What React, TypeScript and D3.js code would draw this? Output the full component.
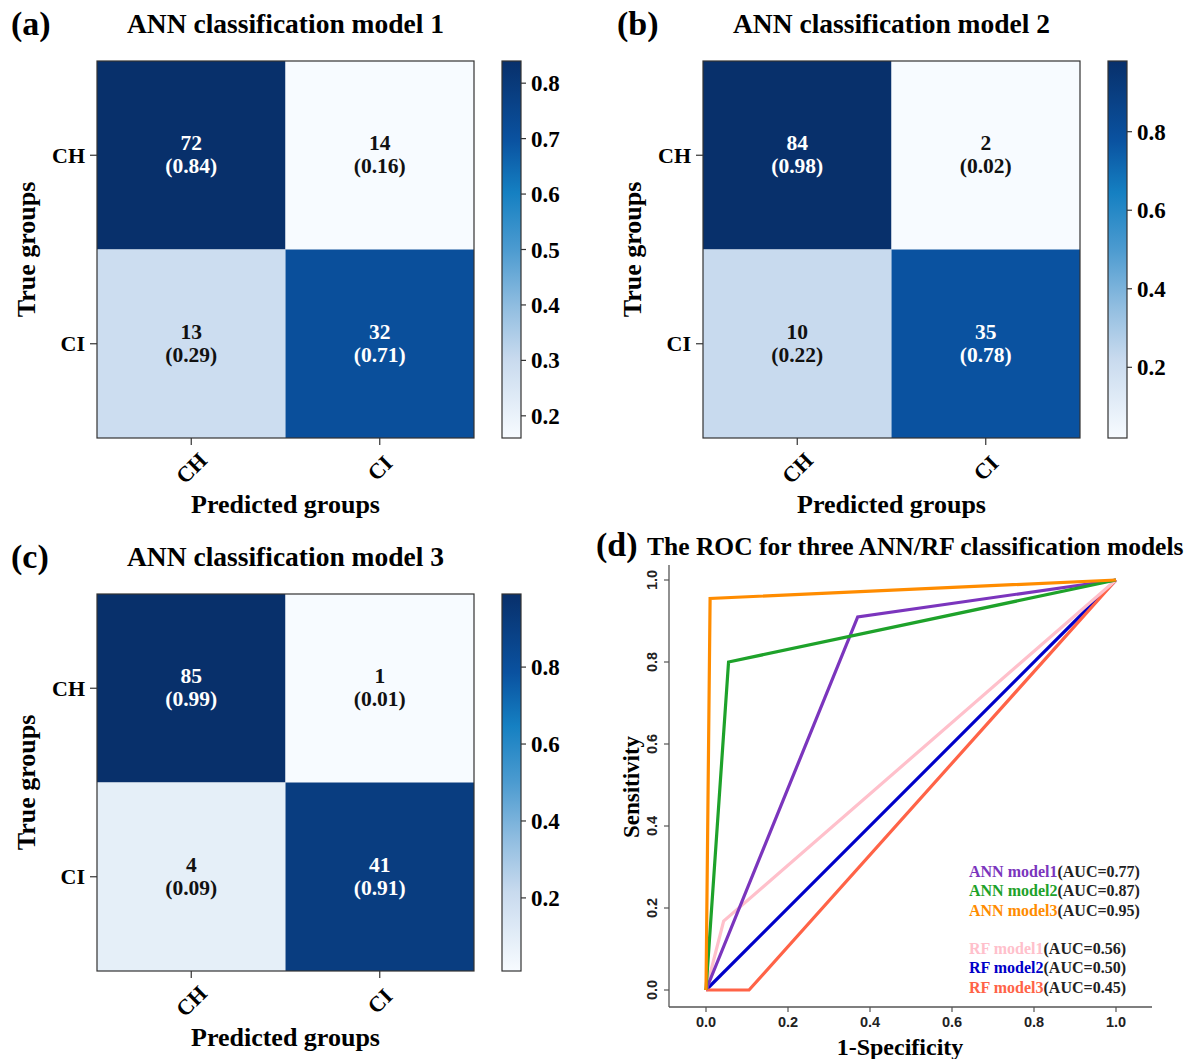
import React from "react";
import * as d3 from "d3";

const classes = ["CH", "CI"];

const model1Counts = [[72, 14], [13, 32]];
const model1Rates = [[0.84, 0.16], [0.29, 0.71]];
const model2Counts = [[84, 2], [10, 35]];
const model2Rates = [[0.98, 0.02], [0.22, 0.78]];
const model3Counts = [[85, 1], [4, 41]];
const model3Rates = [[0.99, 0.01], [0.09, 0.91]];

const cbTicks1 = [0.2, 0.3, 0.4, 0.5, 0.6, 0.7, 0.8];
const cbTicks2 = [0.2, 0.4, 0.6, 0.8];
const cbTicks3 = [0.2, 0.4, 0.6, 0.8];

const annModel1Roc: [number, number][] = [[0, 0], [0.37, 0.91], [1, 1]];
const annModel2Roc: [number, number][] = [[0, 0], [0.055, 0.8], [1, 1]];
const annModel3Roc: [number, number][] = [[0, 0], [0.01, 0.955], [1, 1]];
const rfModel1Roc: [number, number][] = [[0, 0], [0.043, 0.168], [1, 1]];
const rfModel2Roc: [number, number][] = [[0, 0], [1, 1]];
const rfModel3Roc: [number, number][] = [[0, 0], [0.105, 0], [1, 1]];

const rocNames = ["ANN model1", "ANN model2", "ANN model3", "RF model1", "RF model2", "RF model3"];
const rocAuc = ["0.77", "0.87", "0.95", "0.56", "0.50", "0.45"];
const rocColors = ["#7b35bd", "#1ea22a", "#ff8c00", "#ffc0cb", "#0000c8", "#ff6347"];
const rocTicks = [0, 0.2, 0.4, 0.6, 0.8, 1.0];

const bluesPos = [0, 0.06, 0.21, 0.35, 0.5, 0.65, 0.79, 1];
const bluesCols = ["#f7fbff", "#eaf2fa", "#c8daee", "#90bde0", "#4c9bd0", "#1580c2", "#0a52a0", "#08306b"];

const SERIF = "'Liberation Serif', 'Times New Roman', serif";
const SANS = "'Liberation Sans', Arial, sans-serif";

const blues = d3.scaleLinear<string>().domain(bluesPos).range(bluesCols).interpolate(d3.interpolateRgb).clamp(true);

type CMProps = {
  id: string;
  x0: number;
  y0: number;
  size: number;
  counts: number[][];
  rates: number[][];
  ticks: number[];
  label: string;
  title: string;
};

function ConfMatrix({ id, x0, y0, size, counts, rates, ticks, label, title }: CMProps) {
  const flat = rates.flat();
  const vmin = d3.min(flat) as number;
  const vmax = d3.max(flat) as number;
  const norm = d3.scaleLinear().domain([vmin, vmax]).range([0, 1]);
  const color = (v: number) => blues(norm(v));
  const xb = d3.scaleBand<string>().domain(classes).range([x0, x0 + size]);
  const yb = d3.scaleBand<string>().domain(classes).range([y0, y0 + size]);
  const cbX = x0 + size + 28;
  const cbW = 19;
  const cbScale = d3.scaleLinear().domain([vmin, vmax]).range([y0 + size, y0]);
  const thresh = vmax / 2;
  const cx = x0 + size / 2;
  return (
    <g>
      <defs>
        <linearGradient id={id} x1="0" y1="1" x2="0" y2="0">
          {bluesPos.map((t, i) => (
            <stop key={i} offset={t} stopColor={bluesCols[i]} />
          ))}
        </linearGradient>
      </defs>
      <text x={x0 - 86} y={y0 - 26} fontFamily={SERIF} fontWeight="bold" fontSize={34}>{label}</text>
      <text x={cx} y={y0 - 28} textAnchor="middle" fontFamily={SERIF} fontWeight="bold" fontSize={27.5}>{title}</text>
      {classes.map((r, i) =>
        classes.map((c, j) => (
          <g key={r + c}>
            <rect x={xb(c)} y={yb(r)} width={xb.bandwidth()} height={yb.bandwidth()} fill={color(rates[i][j])} />
            <text
              x={(xb(c) as number) + xb.bandwidth() / 2}
              y={(yb(r) as number) + yb.bandwidth() / 2 - 5}
              textAnchor="middle"
              fontFamily={SERIF}
              fontWeight="bold"
              fontSize={21.5}
              fill={rates[i][j] > thresh ? "#ffffff" : "#111111"}
            >
              <tspan x={(xb(c) as number) + xb.bandwidth() / 2} dy="0">{counts[i][j]}</tspan>
              <tspan x={(xb(c) as number) + xb.bandwidth() / 2} dy="23">({rates[i][j].toFixed(2)})</tspan>
            </text>
          </g>
        ))
      )}
      <rect x={x0} y={y0} width={size} height={size} fill="none" stroke="#333" strokeWidth={1.2} />
      {classes.map((r) => {
        const yy = (yb(r) as number) + yb.bandwidth() / 2;
        return (
          <g key={"y" + r}>
            <line x1={x0 - 7} x2={x0} y1={yy} y2={yy} stroke="#333" strokeWidth={1.2} />
            <text x={x0 - 12} y={yy} dy="0.35em" textAnchor="end" fontFamily={SERIF} fontWeight="bold" fontSize={22}>{r}</text>
          </g>
        );
      })}
      {classes.map((c) => {
        const xx = (xb(c) as number) + xb.bandwidth() / 2;
        return (
          <g key={"x" + c}>
            <line x1={xx} x2={xx} y1={y0 + size} y2={y0 + size + 7} stroke="#333" strokeWidth={1.2} />
            <text
              transform={`translate(${xx},${y0 + size + 30}) rotate(-45)`}
              textAnchor="middle"
              dy="0.35em"
              fontFamily={SERIF}
              fontWeight="bold"
              fontSize={22}
            >
              {c}
            </text>
          </g>
        );
      })}
      <text x={cx} y={y0 + size + 75} textAnchor="middle" fontFamily={SERIF} fontWeight="bold" fontSize={26}>Predicted groups</text>
      <text
        transform={`translate(${x0 - 62},${y0 + size / 2}) rotate(-90)`}
        textAnchor="middle"
        fontFamily={SERIF}
        fontWeight="bold"
        fontSize={26}
      >
        True groups
      </text>
      <rect x={cbX} y={y0} width={cbW} height={size} fill={`url(#${id})`} stroke="#333" strokeWidth={1.2} />
      {ticks.map((t) => (
        <g key={t}>
          <line x1={cbX + cbW} x2={cbX + cbW + 5} y1={cbScale(t)} y2={cbScale(t)} stroke="#333" strokeWidth={1.2} />
          <text x={cbX + cbW + 10} y={cbScale(t)} dy="0.35em" fontFamily={SERIF} fontWeight="bold" fontSize={23}>{t.toFixed(1)}</text>
        </g>
      ))}
    </g>
  );
}

function RocPanel() {
  const x = d3.scaleLinear().domain([0, 1]).range([706, 1116]);
  const y = d3.scaleLinear().domain([0, 1]).range([990, 580]);
  const line = d3.line<[number, number]>().x((d) => x(d[0])).y((d) => y(d[1]));
  const series = [annModel1Roc, annModel2Roc, annModel3Roc, rfModel1Roc, rfModel2Roc, rfModel3Roc];
  const drawOrder = [4, 5, 3, 0, 1, 2];
  const axisX0 = 669;
  const axisY0 = 1007;
  const legendY = [871, 890.5, 910, 948, 967.5, 987];
  return (
    <g>
      <text x={596} y={556} fontFamily={SERIF} fontWeight="bold" fontSize={34}>(d)</text>
      <text x={647} y={555} fontFamily={SERIF} fontWeight="bold" fontSize={25.5}>The ROC for three ANN/RF classification models</text>
      <line x1={axisX0} x2={axisX0} y1={565} y2={axisY0} stroke="#555" strokeWidth={1.3} />
      <line x1={axisX0} x2={1152} y1={axisY0} y2={axisY0} stroke="#555" strokeWidth={1.3} />
      {rocTicks.map((t) => (
        <g key={"yt" + t}>
          <line x1={axisX0 - 5} x2={axisX0} y1={y(t)} y2={y(t)} stroke="#555" strokeWidth={1.2} />
          <text
            transform={`translate(${652},${y(t)}) rotate(-90)`}
            textAnchor="middle"
            dy="0.35em"
            fontFamily={SANS}
            fontWeight="bold"
            fontSize={14.5}
            fill="#222"
          >
            {t.toFixed(1)}
          </text>
        </g>
      ))}
      {rocTicks.map((t) => (
        <g key={"xt" + t}>
          <line x1={x(t)} x2={x(t)} y1={axisY0} y2={axisY0 + 5} stroke="#555" strokeWidth={1.2} />
          <text x={x(t)} y={1022} textAnchor="middle" dy="0.35em" fontFamily={SANS} fontWeight="bold" fontSize={14.5} fill="#222">
            {t.toFixed(1)}
          </text>
        </g>
      ))}
      {drawOrder.map((i) => (
        <path key={i} d={line(series[i]) as string} fill="none" stroke={rocColors[i]} strokeWidth={3.2} strokeLinejoin="miter" />
      ))}
      <text
        transform={`translate(${631},${787}) rotate(-90)`}
        textAnchor="middle"
        dy="0.35em"
        fontFamily={SERIF}
        fontWeight="bold"
        fontSize={23}
      >
        Sensitivity
      </text>
      <text x={900} y={1055} textAnchor="middle" fontFamily={SERIF} fontWeight="bold" fontSize={24}>1-Specificity</text>
      {rocNames.map((n, i) => (
        <text key={n} x={969} y={legendY[i]} dy="0.35em" fontFamily={SERIF} fontWeight="bold" fontSize={16}>
          <tspan fill={rocColors[i]}>{n}</tspan>
          <tspan fill="#222">(AUC={rocAuc[i]})</tspan>
        </text>
      ))}
    </g>
  );
}

export default function App() {
  return (
    <svg
      width={1188}
      height={1059}
      style={{ position: "absolute", left: 0, top: 0, background: "#fff" }}
    >
      <rect width={1188} height={1059} fill="#fff" />
      <ConfMatrix id="cb1" x0={97} y0={61} size={377} counts={model1Counts} rates={model1Rates} ticks={cbTicks1} label="(a)" title="ANN classification model 1" />
      <ConfMatrix id="cb2" x0={703} y0={61} size={377} counts={model2Counts} rates={model2Rates} ticks={cbTicks2} label="(b)" title="ANN classification model 2" />
      <ConfMatrix id="cb3" x0={97} y0={594} size={377} counts={model3Counts} rates={model3Rates} ticks={cbTicks3} label="(c)" title="ANN classification model 3" />
      <RocPanel />
    </svg>
  );
}
